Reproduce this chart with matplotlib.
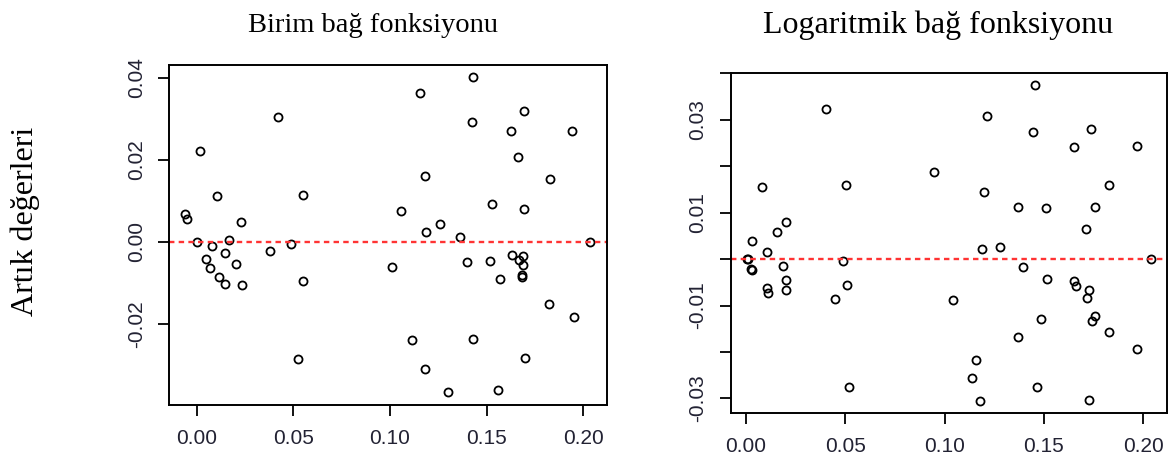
import matplotlib
matplotlib.use("Agg")
import matplotlib.pyplot as plt

# residuals vs fitted, identity link (left) and log link (right)
birim_x = [0.0423, 0.0018, 0.0108, 0.0552, -0.0059, -0.0048, 0.0230, 0.0001, 0.0168, 0.0079,
           0.0487, 0.0380, 0.0147, 0.0049, 0.0070, 0.0206, 0.0118, 0.0146, 0.0234, 0.0549,
           0.0523, 0.1012, 0.1431, 0.1156, 0.1693, 0.1426, 0.1625, 0.1943, 0.1661, 0.1181,
           0.1828, 0.1056, 0.1528, 0.1693, 0.1257, 0.1185, 0.1362, 0.2035, 0.1400, 0.1519,
           0.1631, 0.1690, 0.1669, 0.1687, 0.1685, 0.1685, 0.1571, 0.1821, 0.1952, 0.1116,
           0.1428, 0.1697, 0.1180, 0.1300, 0.1560]
birim_y = [0.0303, 0.0221, 0.0111, 0.0113, 0.0068, 0.0055, 0.0047, 0.0000, 0.0004, -0.0010,
           -0.0005, -0.0022, -0.0028, -0.0042, -0.0065, -0.0053, -0.0086, -0.0103, -0.0105, -0.0095,
           -0.0287, -0.0061, 0.0401, 0.0362, 0.0320, 0.0292, 0.0269, 0.0271, 0.0207, 0.0160,
           0.0154, 0.0074, 0.0093, 0.0080, 0.0044, 0.0024, 0.0011, 0.0000, -0.0050, -0.0047,
           -0.0032, -0.0034, -0.0045, -0.0056, -0.0081, -0.0085, -0.0091, -0.0151, -0.0184, -0.0240,
           -0.0237, -0.0284, -0.0310, -0.0367, -0.0362]

log_x = [0.0401, 0.0945, 0.0082, 0.0504, 0.0201, 0.0156, 0.0030, 0.0107, 0.0004, 0.0008,
         0.0027, 0.0030, 0.0487, 0.0188, 0.0203, 0.0107, 0.0109, 0.0200, 0.0510, 0.0447,
         0.0517, 0.1457, 0.1212, 0.1447, 0.1739, 0.1652, 0.1970, 0.1828, 0.1198, 0.1368,
         0.1512, 0.1759, 0.1710, 0.1190, 0.1277, 0.2039, 0.1396, 0.1516, 0.1650, 0.1662,
         0.1729, 0.1716, 0.1041, 0.1484, 0.1756, 0.1742, 0.1829, 0.1370, 0.1969, 0.1158,
         0.1136, 0.1467, 0.1180, 0.1726]
log_y = [0.0324, 0.0188, 0.0156, 0.0159, 0.0080, 0.0059, 0.0039, 0.0016, 0.0001, 0.0000,
         -0.0021, -0.0023, -0.0003, -0.0014, -0.0045, -0.0063, -0.0072, -0.0066, -0.0055, -0.0085,
         -0.0276, 0.0375, 0.0309, 0.0273, 0.0280, 0.0241, 0.0244, 0.0159, 0.0144, 0.0113,
         0.0110, 0.0113, 0.0064, 0.0022, 0.0026, 0.0000, -0.0017, -0.0042, -0.0046, -0.0058,
         -0.0067, -0.0083, -0.0088, -0.0128, -0.0123, -0.0134, -0.0157, -0.0167, -0.0194, -0.0218,
         -0.0256, -0.0275, -0.0305, -0.0303]

x_ticks = [0.00, 0.05, 0.10, 0.15, 0.20]
x_labels = ["0.00", "0.05", "0.10", "0.15", "0.20"]
birim_yticks = [-0.02, 0.00, 0.02, 0.04]
birim_ylabels = ["-0.02", "0.00", "0.02", "0.04"]
log_yticks = [-0.03, -0.02, -0.01, 0.00, 0.01, 0.02, 0.03, 0.04]
log_ylabels = ["-0.03", "", "-0.01", "", "0.01", "", "0.03", ""]

tick_col = "#222233"

fig = plt.figure(figsize=(11.74, 4.59), dpi=100)
ax1 = fig.add_axes([0.1442, 0.1176, 0.3726, 0.7408])
ax2 = fig.add_axes([0.6224, 0.0996, 0.3719, 0.7414])


def style(ax, xs, ys, yticks, ylabels, xlim, ylim):
    ax.plot(xs, ys, "o", ms=5.8, mfc="none", mec="black", mew=1.3, ls="none")
    ax.axhline(0, color="#ff3333", lw=1.7, ls=(0, (2.3, 1.8)))
    ax.set_xlim(*xlim)
    ax.set_ylim(*ylim)
    ax.set_xticks(x_ticks)
    ax.set_xticklabels(x_labels)
    ax.set_yticks(yticks)
    ax.set_yticklabels(ylabels)
    ax.tick_params(direction="out", length=8, width=1.3, labelsize=15,
                   labelcolor=tick_col, pad=9)
    ax.tick_params(axis="y", labelrotation=90)
    for lab in ax.get_yticklabels():
        lab.set_va("center")
    for lab in ax.get_xticklabels() + ax.get_yticklabels():
        lab.set_family("Liberation Sans")
    for sp in ax.spines.values():
        sp.set_linewidth(1.4)


style(ax1, birim_x, birim_y, birim_yticks, birim_ylabels, (-0.0141, 0.2121), (-0.0398, 0.0431))
style(ax2, log_x, log_y, log_yticks, log_ylabels, (-0.0077, 0.2121), (-0.0332, 0.0401))

fig.text(373 / 1174, 1 - 32 / 459, "Birim bağ fonksiyonu", ha="center", va="baseline",
         fontsize=20.5, family="Liberation Serif")
fig.text(938 / 1174, 1 - 33 / 459, "Logaritmik bağ fonksiyonu", ha="center", va="baseline",
         fontsize=23, family="Liberation Serif")
fig.text(25 / 1174, 1 - 221 / 459, "Artık değerleri", rotation=90, ha="center", va="center",
         fontsize=23, family="Liberation Serif")

fig.savefig("out.png", dpi=100)
